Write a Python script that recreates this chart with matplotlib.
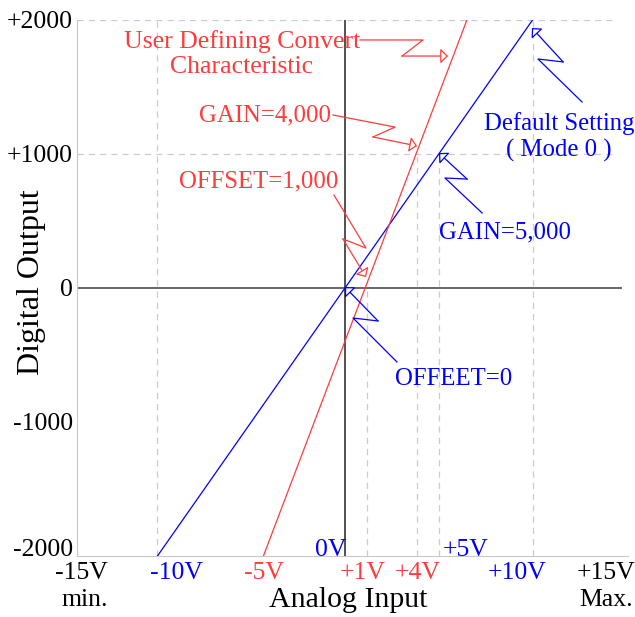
import matplotlib
matplotlib.use('Agg')
import matplotlib.pyplot as plt
import matplotlib.transforms as mtransforms

plt.rcParams['font.family'] = ['Liberation Serif', 'DejaVu Serif']

RED = '#ff3b3b'
BLUE = '#0000ff'

# characteristic lines (input position, digital output)
default_x = [-10, 10]
default_y = [-2000, 2000]
user_x = [-4.35, 6.5]
user_y = [-2000, 2000]

# y axis ticks
y_ticks = [-2000, -1000, 0, 1000, 2000]
y_labels = ['-2000', '-1000', '0', '+1000', '+2000']

# bottom labels under the axis
x_labels = ['-15V', '-10V', '-5V', '+1V', '+4V', '+10V', '+15V']
x_label_pos = [-14.03, -9.01, -4.32, 0.96, 3.89, 9.17, 13.92]
x_label_col = ['black', BLUE, RED, RED, RED, BLUE, 'black']

fig = plt.figure(figsize=(6.35, 6.17), dpi=100)
ax = fig.add_axes([77 / 635, 61 / 617, 551 / 635, 536 / 617])
ax.set_xlim(-14.29, 15.09)
ax.set_ylim(-2000, 2000)

for s in ['top', 'right']:
    ax.spines[s].set_visible(False)
ax.spines['left'].set_color('#c8c8c8')
ax.spines['bottom'].set_color('#c8c8c8')
ax.set_xticks([])
ax.set_yticks(y_ticks)
ax.set_yticklabels(y_labels, fontsize=18.5)
ax.tick_params(axis='y', length=0, pad=3)
# the bottom label sits a little higher in the original
lab0 = ax.get_yticklabels()[0]
lab0.set_transform(lab0.get_transform() + mtransforms.ScaledTranslation(0, 8 / 100, fig.dpi_scale_trans))

# dashed guide lines
grid_kw = dict(color='#cccccc', ls=(0, (5, 4)), lw=0.9, zorder=1)
ax.plot([-14.29, 14.4], [2000, 2000], **grid_kw)
ax.plot([-14.29, 14.4], [1000, 1000], **grid_kw)
ax.plot([-10, -10], [-2000, 2000], **grid_kw)
ax.plot([10, 10], [-2000, 2000], **grid_kw)
ax.plot([1.17, 1.17], [-2000, 0], **grid_kw)
ax.plot([3.84, 3.84], [-2000, 1000], **grid_kw)
ax.plot([5.0, 5.0], [-2000, 1000], **grid_kw)

# zero axes
ax.plot([-14.29, 14.72], [0, 0], color='#666666', lw=1.4, zorder=2)
ax.plot([0, 0], [-2000, 2000], color='#333333', lw=1.2, zorder=2)

ax.plot(default_x, default_y, color=BLUE, lw=0.9, zorder=3)
ax.plot(user_x, user_y, color=RED, lw=0.9, zorder=3)


def zigzag(pts, color):
    xs = [p[0] for p in pts[:-1]]
    ys = [p[1] for p in pts[:-1]]
    ax.plot(xs, ys, color=color, lw=0.9, zorder=4)
    ax.annotate('', xy=pts[-1], xytext=pts[-2],
                arrowprops=dict(arrowstyle='-|>,head_length=0.45,head_width=0.45',
                                mutation_scale=10, fc='white', ec=color, lw=0.9,
                                shrinkA=0, shrinkB=0), zorder=4)


zigzag([(0.8, 1851), (4.16, 1851), (3.04, 1731), (5.49, 1731)], RED)
zigzag([(-0.64, 1291), (2.67, 1201), (1.49, 1127), (3.84, 1060)], RED)
zigzag([(-0.59, 694), (1.12, 298), (-0.11, 366), (1.12, 82)], RED)
zigzag([(12.64, 1388), (10.29, 1709), (11.63, 1687), (9.97, 1940)], BLUE)
zigzag([(7.31, 560), (5.33, 821), (6.51, 813), (5.01, 1007)], BLUE)
zigzag([(2.77, -552), (0.43, -224), (1.76, -246), (0.0, 7)], BLUE)

fs = 17.8
ax.text(-5.49, 1746, 'User Defining Convert\nCharacteristic', color=RED, fontsize=18.5,
        ha='center', va='center', linespacing=1.2)
ax.text(-4.27, 1284, 'GAIN=4,000', color=RED, fontsize=fs, ha='center', va='center')
ax.text(-4.59, 798, 'OFFSET=1,000', color=RED, fontsize=fs, ha='center', va='center')
ax.text(11.41, 1127, 'Default Setting\n( Mode 0 )', color=BLUE, fontsize=fs,
        ha='center', va='center', linespacing=1.25)
ax.text(8.53, 418, 'GAIN=5,000', color=BLUE, fontsize=fs, ha='center', va='center')
ax.text(5.81, -679, 'OFFEET=0', color=BLUE, fontsize=fs, ha='center', va='center')

trans = mtransforms.blended_transform_factory(ax.transData, ax.transAxes)
for lab, xp, c in zip(x_labels, x_label_pos, x_label_col):
    ax.text(xp, -0.032, lab, color=c, fontsize=18.5, ha='center', va='center',
            transform=trans, clip_on=False)
ax.text(-0.75, 0.012, '0V', color=BLUE, fontsize=18.5, ha='center', va='center', transform=trans)
ax.text(6.45, 0.012, '+5V', color=BLUE, fontsize=18.5, ha='center', va='center', transform=trans)
ax.text(-13.87, -0.082, 'min.', fontsize=18.5, ha='center', va='center', transform=trans)
ax.text(13.92, -0.082, 'Max.', fontsize=18.5, ha='center', va='center', transform=trans)
ax.text(0.16, -0.082, 'Analog Input', fontsize=21.5, ha='center', va='center', transform=trans)

fig.text(32 / 635, 1 - 282 / 617, 'Digital Output', fontsize=23, rotation=90,
         ha='center', va='center')

fig.savefig('out.png', dpi=100)
